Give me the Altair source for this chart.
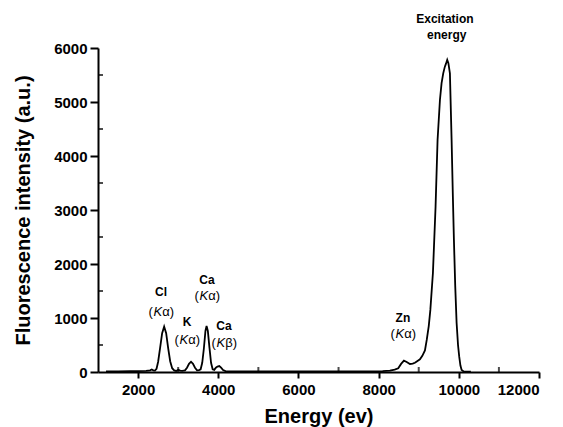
import altair as alt
import pandas as pd

# ---- spectrum ----
energy = [1200, 1500, 1800, 2000, 2200, 2300, 2340, 2380, 2420, 2460, 2500, 2550, 2600, 2650,
          2700, 2750, 2800, 2850, 2900, 2950, 3000, 3050, 3100, 3170, 3220, 3270, 3320, 3370,
          3420, 3470, 3520, 3560, 3600, 3640, 3680, 3708, 3740, 3780, 3820, 3860, 3900, 3940,
          3980, 4025, 4070, 4120, 4180, 4300, 5000, 6000, 7000, 7800, 8100, 8282, 8400, 8489,
          8560, 8631, 8700, 8781, 8850, 8905, 8960, 9030, 9090, 9155, 9200, 9250, 9290, 9354,
          9420, 9470, 9529, 9570, 9611, 9650, 9680, 9711, 9740, 9778, 9820, 9850, 9878, 9910,
          9945, 9980, 10010, 10040, 10070, 10120, 10300]
intensity = [10, 12, 15, 15, 20, 30, 45, 30, 25, 60, 190, 450, 720, 840,
             720, 440, 200, 70, 30, 20, 40, 25, 20, 30, 80, 150, 190, 150,
             80, 30, 35, 50, 170, 430, 760, 852, 760, 450, 170, 50, 40, 80,
             100, 110, 80, 35, 15, 10, 10, 10, 10, 12, 15, 24, 45, 68,
             150, 209, 185, 148, 155, 172, 200, 235, 300, 400, 593, 850, 1150, 1833,
             3061, 4296, 5037, 5350, 5530, 5650, 5710, 5780, 5720, 5530, 4296, 3300, 2444, 1600,
             907, 500, 284, 120, 37, 10, 5]

# ---- annotations ----
lab_x = [2571, 3718, 3219, 4142, 8606]
lab_name_y = [1481, 1704, 926, 852, 1000]
lab_greek_y = [1111, 1407, 593, 537, 704]
lab_name = ["Cl", "Ca", "K", "Ca", "Zn"]
lab_greek = ["α)", "α)", "α)", "β)", "α)"]

exc_x = [9653, 9700]
exc_y = [6537, 6241]
exc_text = ["Excitation", "energy"]

# ---- axes ticks ----
x_major = [2000, 4000, 6000, 8000, 10000, 12000]
x_minor = [3000, 5000, 7000, 9000, 11000]
y_major = [0, 1000, 2000, 3000, 4000, 5000, 6000]
y_minor = [500, 1500, 2500, 3500, 4500, 5500]

FONT = "Liberation Sans"

spec = pd.DataFrame({"energy": energy, "intensity": intensity})
labels = pd.DataFrame({"energy": lab_x, "ny": lab_name_y, "gy": lab_greek_y,
                       "name": lab_name, "greek": lab_greek})
exc = pd.DataFrame({"energy": exc_x, "intensity": exc_y, "t": exc_text})
xmin = pd.DataFrame({"energy": x_minor})
ymin = pd.DataFrame({"intensity": y_minor})

xscale = alt.Scale(domain=[1000, 12000], nice=False, zero=False)
yscale = alt.Scale(domain=[0, 6000], nice=False)

xaxis = alt.Axis(title="Energy (ev)", values=x_major, format="d", grid=False,
                 tickSize=6, labelPadding=4, titlePadding=9)
yaxis = alt.Axis(title="Fluorescence intensity (a.u.)", values=y_major, format="d", grid=False,
                 tickSize=8, labelPadding=3, titlePadding=20)


def X(field="energy"):
    return alt.X(f"{field}:Q", scale=xscale, axis=xaxis)


def Y(field="intensity"):
    return alt.Y(f"{field}:Q", scale=yscale, axis=yaxis)


line = alt.Chart(spec).mark_line(color="black", strokeWidth=1.8).encode(x=X(), y=Y())

xt = alt.Chart(xmin).mark_tick(orient="vertical", size=5, thickness=2, color="black").encode(
    x=X(), y=alt.value(321.5))
yt = alt.Chart(ymin).mark_tick(orient="horizontal", size=5, thickness=2, color="black").encode(
    y=Y(), x=alt.value(2.5))

names = alt.Chart(labels).mark_text(font=FONT, fontSize=12, fontWeight="bold", color="black",
                                    baseline="middle", align="center").encode(
    x=X(), y=Y("ny"), text="name:N")
p1 = alt.Chart(labels).mark_text(font=FONT, fontSize=13, color="black", baseline="middle",
                                 align="left", dx=-12.5).encode(
    x=X(), y=Y("gy"), text=alt.value("("))
p2 = alt.Chart(labels).mark_text(font=FONT, fontSize=13, fontStyle="italic", color="black",
                                 baseline="middle", align="left", dx=-7.4).encode(
    x=X(), y=Y("gy"), text=alt.value("K"))
p3 = alt.Chart(labels).mark_text(font=FONT, fontSize=13, color="black", baseline="middle",
                                 align="left", dx=1.3).encode(
    x=X(), y=Y("gy"), text="greek:N")
ex = alt.Chart(exc).mark_text(font=FONT, fontSize=12, fontWeight="bold", color="black",
                              baseline="middle", align="center").encode(
    x=X(), y=Y(), text="t:N")

chart = alt.layer(line, xt, yt, names, p1, p2, p3, ex).properties(
    width=441, height=324,
    autosize=alt.AutoSizeParams(type="none"),
    padding={"left": 98, "top": 48, "right": 24, "bottom": 55},
    background="white",
).configure_view(stroke=None).configure_axis(
    domainColor="black", domainWidth=2, tickColor="black", tickWidth=2,
    labelFont=FONT, labelFontSize=15, labelFontWeight="bold", labelColor="black",
    titleFont=FONT, titleFontSize=20, titleFontWeight="bold", titleColor="black",
)

chart.save("out.html", embed_options={"renderer": "svg", "actions": False})
